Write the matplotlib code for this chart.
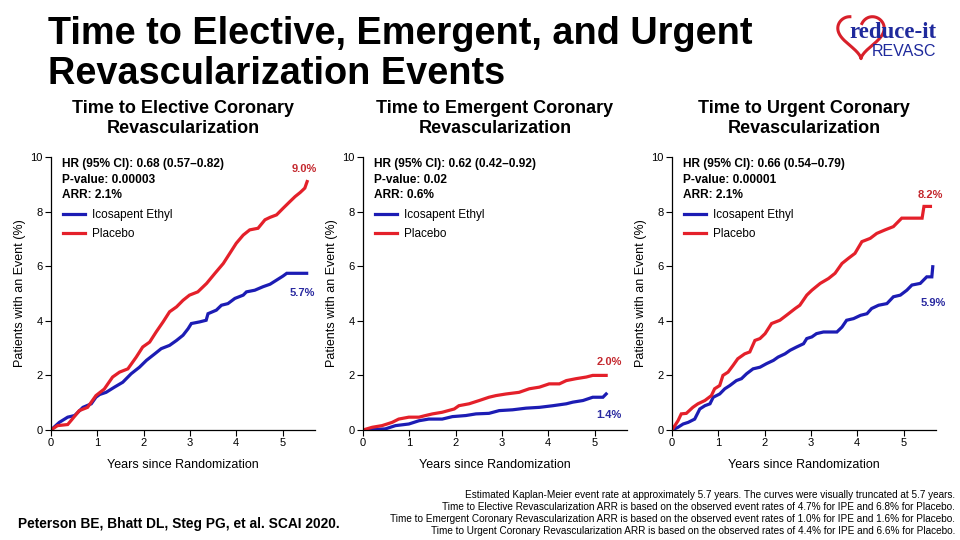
import numpy as np
import matplotlib
matplotlib.use("Agg")
import matplotlib.pyplot as plt

plt.rcParams['font.family'] = ['Liberation Sans', 'DejaVu Sans']

# ---------------- data ----------------
# Elective
el_pl_x = [0, 0.14, 0.36, 0.43, 0.61, 0.79, 0.97, 1.15, 1.33, 1.48, 1.66, 1.84, 1.98, 2.13, 2.27, 2.42, 2.56, 2.71, 2.85, 2.99, 3.17, 3.36, 3.54, 3.72, 3.86, 4.0, 4.15, 4.29, 4.47, 4.62, 4.73, 4.87, 5.01, 5.16, 5.27, 5.38, 5.48, 5.53]
el_pl_y = [0, 0.16, 0.2, 0.34, 0.71, 0.83, 1.26, 1.5, 1.94, 2.12, 2.24, 2.67, 3.04, 3.22, 3.59, 3.96, 4.33, 4.51, 4.75, 4.94, 5.06, 5.37, 5.74, 6.1, 6.47, 6.84, 7.14, 7.33, 7.39, 7.7, 7.79, 7.88, 8.12, 8.37, 8.55, 8.7, 8.86, 9.1]
el_ipe_x = [0, 0.18, 0.36, 0.51, 0.69, 0.87, 0.97, 1.05, 1.19, 1.37, 1.55, 1.73, 1.91, 2.06, 2.24, 2.38, 2.56, 2.71, 2.85, 2.96, 3.03, 3.21, 3.35, 3.39, 3.57, 3.68, 3.82, 3.97, 4.15, 4.22, 4.4, 4.58, 4.73, 4.87, 5.01, 5.09, 5.52]
el_ipe_y = [0, 0.28, 0.47, 0.53, 0.83, 0.96, 1.2, 1.3, 1.38, 1.57, 1.75, 2.06, 2.3, 2.55, 2.79, 2.98, 3.1, 3.28, 3.47, 3.71, 3.9, 3.96, 4.02, 4.26, 4.39, 4.57, 4.63, 4.82, 4.94, 5.06, 5.12, 5.25, 5.34, 5.49, 5.64, 5.74, 5.74]

# Emergent
em_pl_x = [0, 0.2, 0.41, 0.63, 0.77, 0.99, 1.21, 1.35, 1.5, 1.71, 1.97, 2.07, 2.29, 2.51, 2.72, 2.87, 3.09, 3.37, 3.59, 3.81, 4.02, 4.24, 4.39, 4.6, 4.82, 4.96, 5.25]
em_pl_y = [0, 0.1, 0.16, 0.28, 0.4, 0.47, 0.47, 0.53, 0.59, 0.65, 0.77, 0.89, 0.96, 1.08, 1.2, 1.26, 1.32, 1.38, 1.51, 1.57, 1.69, 1.69, 1.81, 1.88, 1.94, 2.0, 2.0]
em_ipe_x = [0, 0.48, 0.7, 0.99, 1.21, 1.42, 1.71, 1.93, 2.22, 2.44, 2.72, 2.94, 3.23, 3.52, 3.81, 4.1, 4.39, 4.53, 4.75, 4.96, 5.18, 5.25]
em_ipe_y = [0, 0.04, 0.16, 0.22, 0.34, 0.4, 0.4, 0.49, 0.53, 0.59, 0.61, 0.71, 0.74, 0.8, 0.83, 0.89, 0.96, 1.02, 1.08, 1.2, 1.2, 1.32]

# Urgent
ur_pl_x = [0, 0.13, 0.2, 0.31, 0.45, 0.56, 0.71, 0.85, 0.92, 1.03, 1.1, 1.21, 1.32, 1.42, 1.57, 1.68, 1.79, 1.9, 2.01, 2.15, 2.33, 2.47, 2.66, 2.76, 2.91, 3.02, 3.2, 3.38, 3.52, 3.67, 3.81, 3.95, 4.1, 4.28, 4.42, 4.6, 4.78, 4.96, 5.4, 5.44, 5.58]
ur_pl_y = [0, 0.34, 0.59, 0.61, 0.83, 0.96, 1.08, 1.26, 1.51, 1.63, 2.0, 2.12, 2.37, 2.61, 2.79, 2.86, 3.28, 3.35, 3.53, 3.9, 4.02, 4.2, 4.45, 4.57, 4.94, 5.12, 5.37, 5.55, 5.74, 6.1, 6.29, 6.47, 6.9, 7.02, 7.2, 7.33, 7.45, 7.76, 7.76, 8.19, 8.19]
ur_ipe_x = [0, 0.13, 0.24, 0.35, 0.49, 0.6, 0.71, 0.82, 0.89, 1.03, 1.14, 1.25, 1.39, 1.5, 1.61, 1.75, 1.9, 2.04, 2.19, 2.29, 2.44, 2.55, 2.69, 2.84, 2.91, 3.02, 3.12, 3.27, 3.56, 3.67, 3.77, 3.92, 4.07, 4.21, 4.31, 4.46, 4.64, 4.78, 4.93, 5.07, 5.18, 5.36, 5.5, 5.61, 5.63]
ur_ipe_y = [0, 0.1, 0.22, 0.28, 0.4, 0.77, 0.89, 0.96, 1.2, 1.32, 1.51, 1.63, 1.81, 1.88, 2.06, 2.24, 2.3, 2.43, 2.55, 2.67, 2.79, 2.92, 3.04, 3.16, 3.35, 3.41, 3.53, 3.59, 3.59, 3.77, 4.02, 4.08, 4.2, 4.26, 4.45, 4.57, 4.63, 4.88, 4.94, 5.12, 5.31, 5.37, 5.61, 5.61, 5.98]

panel_titles = ["Time to Elective Coronary\nRevascularization",
                "Time to Emergent Coronary\nRevascularization",
                "Time to Urgent Coronary\nRevascularization"]
stats = [["HR (95% CI): 0.68 (0.57\u20130.82)", "P-value: 0.00003", "ARR: 2.1%"],
         ["HR (95% CI): 0.62 (0.42\u20130.92)", "P-value: 0.02", "ARR: 0.6%"],
         ["HR (95% CI): 0.66 (0.54\u20130.79)", "P-value: 0.00001", "ARR: 2.1%"]]
end_pl = ["9.0%", "2.0%", "8.2%"]
end_ipe = ["5.7%", "1.4%", "5.9%"]
series_names = ["Icosapent Ethyl", "Placebo"]
xticks = [0, 1, 2, 3, 4, 5]
yticks = [0, 2, 4, 6, 8, 10]

panels = [
    (el_ipe_x, el_ipe_y, el_pl_x, el_pl_y),
    (em_ipe_x, em_ipe_y, em_pl_x, em_pl_y),
    (ur_ipe_x, ur_ipe_y, ur_pl_x, ur_pl_y),
]

# ---------------- style ----------------
BLUE = "#1c1cb4"
RED = "#e4202a"
BLUE_T = "#2a2aa0"
RED_T = "#c4282e"
W, H = 960, 540

fig = plt.figure(figsize=(9.6, 5.4), dpi=100)
fig.patch.set_facecolor("white")

lefts = [51, 363, 672]
ax_w, ax_top, ax_bot = 264, 157, 430
pl_off = [(-2, 9), (2, 10), (0, 8)]
ipe_off = [(-3, -14), (2, -15), (0, -26)]

for i, (ix, iy, px, py) in enumerate(panels):
    l = lefts[i]
    ax = fig.add_axes([l / W, (H - ax_bot) / H, ax_w / W, (ax_bot - ax_top) / H])
    ax.plot(ix, iy, color=BLUE, lw=2.3, solid_joinstyle='miter', label=series_names[0])
    ax.plot(px, py, color=RED, lw=2.3, solid_joinstyle='miter', label=series_names[1])
    ax.set_xlim(0, 5.7)
    ax.set_ylim(0, 10)
    ax.set_xticks(xticks)
    ax.set_yticks(yticks)
    ax.tick_params(labelsize=8, length=4, width=0.8, direction='out', pad=2)
    for s in ['top', 'right']:
        ax.spines[s].set_visible(False)
    for s in ['left', 'bottom']:
        ax.spines[s].set_linewidth(0.9)
    ax.set_xlabel("Years since Randomization", fontsize=9, labelpad=8)
    ax.set_ylabel("Patients with an Event (%)", fontsize=9, labelpad=3)
    ax.set_title(panel_titles[i], fontsize=13, fontweight='bold', pad=17, linespacing=1.25)
    for k, line in enumerate(stats[i]):
        ax.text(0.042, 0.995 - k * 0.056, line, transform=ax.transAxes, fontsize=8.6,
                fontweight='bold', va='top', ha='left')
    ax.legend(loc='upper left', bbox_to_anchor=(0.045, 0.81), frameon=False, fontsize=8.5,
              handlelength=1.9, handletextpad=0.55, labelspacing=0.6, borderpad=0,
              borderaxespad=0)
    ax.annotate(end_pl[i], (px[-1], py[-1]), xytext=pl_off[i], textcoords='offset points',
                ha='center', va='center', fontsize=8, fontweight='bold', color=RED_T,
                annotation_clip=False)
    ax.annotate(end_ipe[i], (ix[-1], iy[-1]), xytext=ipe_off[i], textcoords='offset points',
                ha='center', va='center', fontsize=8, fontweight='bold', color=BLUE_T,
                annotation_clip=False)

# main title
fig.text(48 / W, 1 - 16 / H, "Time to Elective, Emergent, and Urgent\nRevascularization Events",
         fontsize=27.3, fontweight='bold', ha='left', va='top', linespacing=1.13)

# bottom notes
notes = ["Estimated Kaplan-Meier event rate at approximately 5.7 years. The curves were visually truncated at 5.7 years.",
         "Time to Elective Revascularization ARR is based on the observed event rates of 4.7% for IPE and 6.8% for Placebo.",
         "Time to Emergent Coronary Revascularization ARR is based on the observed event rates of 1.0% for IPE and 1.6% for Placebo.",
         "Time to Urgent Coronary Revascularization ARR is based on the observed rates of 4.4% for IPE and 6.6% for Placebo."]
for k, n in enumerate(notes):
    fig.text(955 / W, 1 - (495 + 12 * k) / H, n, fontsize=7.2, ha='right', va='center')

fig.text(18 / W, 1 - 524 / H, "Peterson BE, Bhatt DL, Steg PG, et al. SCAI 2020.",
         fontsize=9.9, fontweight='bold', ha='left', va='center')

# logo
lax = fig.add_axes([830 / W, (H - 66) / H, 120 / W, 56 / H])
lax.set_xlim(0, 120)
lax.set_ylim(0, 56)
lax.axis('off')
t = np.linspace(0.35, 2 * np.pi - 0.9, 200)
hx = 16 * np.sin(t) ** 3
hy = 13 * np.cos(t) - 5 * np.cos(2 * t) - 2 * np.cos(3 * t) - np.cos(4 * t)
lax.plot(31 + hx * 1.45, 32 + hy * 1.45, color="#d8202a", lw=2.2)
lax.text(19, 33, "reduce-it", fontsize=16.5, fontweight='bold', family='Liberation Serif',
         color="#1f2a9c", ha='left', va='center')
lax.text(42, 14, "REVASC", fontsize=11.5, color="#1f2a9c", ha='left', va='center')

fig.savefig("out.png", dpi=100)
